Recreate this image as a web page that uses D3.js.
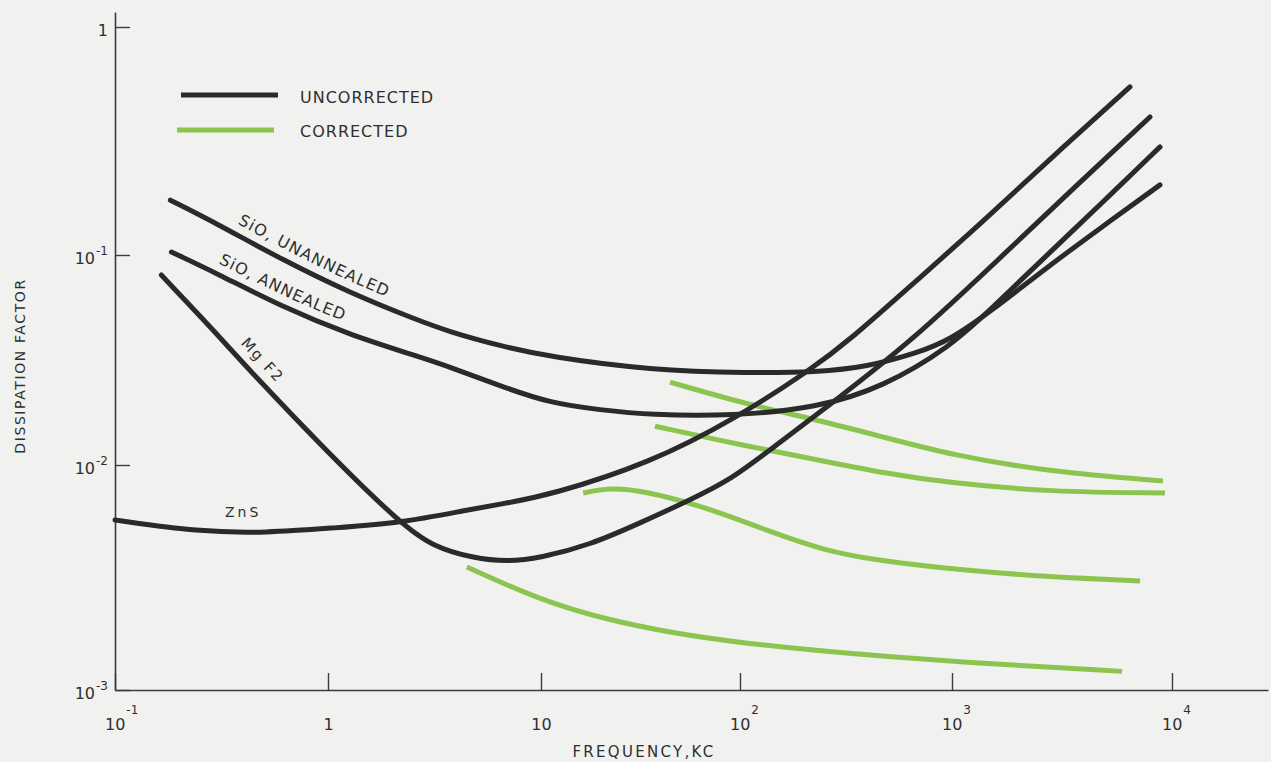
<!DOCTYPE html>
<html><head><meta charset="utf-8">
<script src="https://cdn.jsdelivr.net/npm/d3@7/dist/d3.min.js"></script>
<style>body{margin:0;background:#f1f1ef;} svg{display:block}</style>
</head><body><svg id="chart" width="1271" height="762"></svg>
<script>
// ---- tick values and labels ----
const xTicks = [0.1, 1, 10, 100, 1000, 10000];
const xTickLabels = [["10","-1"],["1",""],["10",""],["10","2"],["10","3"],["10","4"]];
const yTicks = [0.001, 0.01, 0.1, 1];
const yTickLabels = [["10","-3"],["10","-2"],["10","-1"],["1",""]];

// ---- series (frequency kc, dissipation factor) ----
const sioUnannealedF = [0.182,0.298,0.612,1.27,2.62,3.74,6.42,11.1,35.3,111,231,397,684,979,1488,2790,4710,8820];
const sioUnannealedD = [0.174,0.138,0.0947,0.0659,0.0490,0.0430,0.0369,0.0327,0.0283,0.0274,0.0277,0.0293,0.0341,0.0394,0.0535,0.0896,0.131,0.203];
const sioAnnealedF = [0.184,0.298,0.612,1.27,2.62,3.74,6.42,11.1,19.8,35.3,92.3,231,473,979,1488,2790,4710,8820];
const sioAnnealedD = [0.103,0.0821,0.0565,0.0416,0.0330,0.0293,0.0238,0.0197,0.0183,0.0173,0.0171,0.0187,0.0235,0.0365,0.0547,0.103,0.166,0.298];
const mgf2F = [0.165,0.298,0.427,1.02,2.18,3.11,4.80,6.92,9.89,17.6,31.4,56.1,89.1,134,275,655,1653,3820,7940];
const mgf2D = [0.0803,0.0425,0.0283,0.0112,0.00552,0.00433,0.00386,0.00371,0.00386,0.00441,0.00552,0.00699,0.00858,0.0115,0.0199,0.0394,0.0968,0.209,0.403];
const znsF = [0.1,0.247,0.514,1.05,2.18,4.49,6.92,11.1,35.3,96.6,214,330,684,1384,2790,6440];
const znsD = [0.0057,0.00504,0.00499,0.00525,0.00552,0.00631,0.00678,0.00736,0.0102,0.0168,0.0283,0.0394,0.0760,0.140,0.264,0.546];
const corr1F = [44.5,111,231,473,979,2790,9100];
const corr1D = [0.0248,0.0193,0.0164,0.0136,0.0112,0.00931,0.00849];
const corr2F = [37.4,111,231,473,979,2790,9290];
const corr2D = [0.0153,0.0122,0.0106,0.00921,0.00832,0.00759,0.00751];
const corr3F = [16.3,22.2,31.4,68.2,143,247,424,1087,2790,7160];
const corr3D = [0.00751,0.00791,0.00774,0.00650,0.00499,0.00419,0.00378,0.00341,0.00318,0.00305];
const corr4F = [4.49,9.89,21.5,46.0,100,296,1087,5930];
const corr4D = [0.00352,0.00251,0.00205,0.00179,0.00162,0.00146,0.00133,0.00121];

const BLACK = "#2a2a2a", GREEN = "#8cc450", AXIS = "#3c3c3c", INK = "#2f2f2f";
const FONT = "'DejaVu Sans', sans-serif";

const svg = d3.select("#chart");
svg.append("rect").attr("width",1271).attr("height",762).attr("fill","#f1f1ef");

// hand-drawn log axes: piecewise log scales
const x = d3.scaleLog().domain([0.1,1,10,100,1000,10000,27300]).range([115,328,541,740,952,1172,1268]);
const y = d3.scaleLog().domain([0.001,0.01,0.1,1,1.16]).range([690,465,255,27,12]);

const zip = (F,D) => F.map((f,i)=>[f,D[i]]);
const line = d3.line().x(d=>x(d[0])).y(d=>y(d[1])).curve(d3.curveBasis);

// axes
const gx = svg.append("g").attr("transform",`translate(0,${y(0.001)})`)
  .call(d3.axisBottom(x).tickValues(xTicks).tickSizeInner(-17).tickSizeOuter(0).tickFormat(()=>""));
const gy = svg.append("g").attr("transform",`translate(${x(0.1)},0)`)
  .call(d3.axisLeft(y).tickValues(yTicks).tickSizeInner(-15).tickSizeOuter(0).tickFormat(()=>""));
[gx,gy].forEach(g=>{
  g.selectAll("path.domain").attr("stroke",AXIS).attr("stroke-width",1.6);
  g.selectAll(".tick line").attr("stroke",AXIS).attr("stroke-width",1.4);
});

gx.selectAll(".tick text").each(function(d,i){
  const lab = xTickLabels[i];
  const t = d3.select(this).text(null).attr("fill",INK).attr("font-family",FONT)
    .attr("font-size",16).attr("y",40).attr("dy",0);
  if (lab[1]) {
    t.attr("text-anchor","start").attr("x",-10.5);
    t.append("tspan").text(lab[0]);
    t.append("tspan").attr("font-size",12).attr("dx",1).attr("dy",-16).text(lab[1]);
  } else {
    t.attr("text-anchor","middle").attr("x",0).text(lab[0]);
  }
});
gy.selectAll(".tick text").each(function(d,i){
  const lab = yTickLabels[i];
  const t = d3.select(this).text(null).attr("fill",INK).attr("font-family",FONT)
    .attr("font-size",16).attr("x",-7).attr("dy",8).attr("text-anchor","end");
  t.append("tspan").text(lab[0]);
  if (lab[1]) t.append("tspan").attr("font-size",12).attr("dx",1).attr("dy",-9).text(lab[1]);
});

// axis titles
svg.append("text").attr("x",644).attr("y",757).attr("text-anchor","middle")
  .attr("font-family",FONT).attr("font-size",15).attr("letter-spacing",2.3).attr("fill",INK)
  .text("FREQUENCY,KC");
svg.append("text").attr("transform","translate(25,366) rotate(-90)").attr("text-anchor","middle")
  .attr("font-family",FONT).attr("font-size",14).attr("letter-spacing",1.6).attr("fill",INK)
  .text("DISSIPATION FACTOR");

// corrected (green) curves
[[corr1F,corr1D],[corr2F,corr2D],[corr3F,corr3D],[corr4F,corr4D]].forEach(([F,D])=>{
  svg.append("path").attr("d",line(zip(F,D))).attr("fill","none")
    .attr("stroke",GREEN).attr("stroke-width",5).attr("stroke-linecap","butt");
});
// uncorrected (black) curves
const blacks = [["p-sioun",sioUnannealedF,sioUnannealedD],["p-sioan",sioAnnealedF,sioAnnealedD],
                ["p-mgf2",mgf2F,mgf2D],["p-zns",znsF,znsD]];
blacks.forEach(([id,F,D])=>{
  svg.append("path").attr("id",id).attr("d",line(zip(F,D))).attr("fill","none")
    .attr("stroke",BLACK).attr("stroke-width",5).attr("stroke-linecap","round");
});

// curve labels following their curves
function pathLabel(id, txt, offset, dy, size, ls){
  svg.append("text").attr("font-family",FONT).attr("font-size",size)
    .attr("letter-spacing",ls).attr("fill",INK).attr("dy",dy)
    .append("textPath").attr("href","#"+id).attr("startOffset",offset).text(txt);
}
pathLabel("p-sioun","SiO, UNANNEALED",70,-10,16,1.3);
pathLabel("p-sioan","SiO, ANNEALED",47,-10,16,1.1);
pathLabel("p-mgf2","Mg F2",104,-11,15,2);
svg.append("text").attr("x",225).attr("y",517).attr("font-family",FONT).attr("font-size",14)
  .attr("letter-spacing",3).attr("fill",INK).text("ZnS");

// legend
const legend = svg.append("g");
legend.append("line").attr("x1",181).attr("x2",278).attr("y1",95).attr("y2",95)
  .attr("stroke",BLACK).attr("stroke-width",5);
legend.append("line").attr("x1",177).attr("x2",274).attr("y1",130).attr("y2",130)
  .attr("stroke",GREEN).attr("stroke-width",5);
legend.append("text").attr("x",300).attr("y",103).attr("font-family",FONT).attr("font-size",16)
  .attr("letter-spacing",1).attr("fill",INK).text("UNCORRECTED");
legend.append("text").attr("x",300).attr("y",137).attr("font-family",FONT).attr("font-size",16)
  .attr("letter-spacing",1).attr("fill",INK).text("CORRECTED");
</script></body></html>
